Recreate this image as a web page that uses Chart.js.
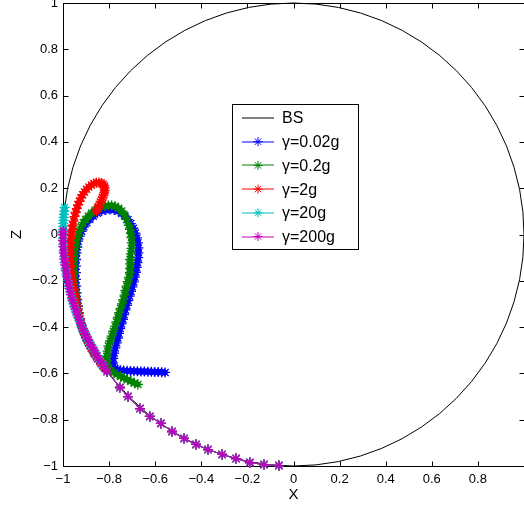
<!DOCTYPE html>
<html>
<head>
<meta charset="utf-8">
<script src="https://cdn.jsdelivr.net/npm/chart.js"></script>
<style>
  body { margin: 0; background: #fff; }
</style>
</head>
<body>
<canvas id="myChart" width="524" height="509"></canvas>
<script>
// axis ticks (both axes)
var tickValues = [-1, -0.8, -0.6, -0.4, -0.2, 0, 0.2, 0.4, 0.6, 0.8, 1];

var circleLabel = 'BS';
var seriesLabels = ['\u03b3=0.02g', '\u03b3=0.2g', '\u03b3=2g', '\u03b3=20g', '\u03b3=200g'];
var seriesColors = ['#0000ff', '#008000', '#ff0000', '#00bfbf', '#bf00bf'];

// common sparse end along the sphere, [x, z]
var arcTail = [[-0.809,-0.592],[-0.753,-0.661],[-0.718,-0.700],[-0.666,-0.752],[-0.623,-0.786],[-0.575,-0.816],
  [-0.527,-0.851],[-0.475,-0.881],[-0.423,-0.907],[-0.371,-0.929],[-0.310,-0.950],[-0.249,-0.968],
  [-0.189,-0.985],[-0.128,-0.994],[-0.063,-0.998]];

// gamma = 0.02g
var g002 = [[-0.557,-0.596],[-0.572,-0.595],[-0.587,-0.594],[-0.602,-0.594],[-0.617,-0.593],[-0.632,-0.593],
  [-0.647,-0.592],[-0.662,-0.592],[-0.677,-0.591],[-0.692,-0.591],[-0.707,-0.590],[-0.722,-0.589],
  [-0.737,-0.588],[-0.751,-0.586],[-0.764,-0.583],[-0.775,-0.579],[-0.782,-0.572],
  [-0.784,-0.555],[-0.782,-0.535],[-0.778,-0.512],[-0.773,-0.490],[-0.767,-0.468],[-0.762,-0.447],
  [-0.757,-0.427],[-0.752,-0.406],[-0.746,-0.386],[-0.740,-0.366],[-0.735,-0.346],[-0.729,-0.326],
  [-0.723,-0.306],[-0.717,-0.286],[-0.711,-0.266],[-0.705,-0.246],[-0.699,-0.226],[-0.693,-0.205],
  [-0.688,-0.184],[-0.684,-0.163],[-0.680,-0.142],[-0.677,-0.121],[-0.674,-0.100],[-0.673,-0.079],
  [-0.673,-0.058],[-0.675,-0.036],[-0.679,-0.015],[-0.686,0.006],[-0.695,0.027],[-0.706,0.047],
  [-0.718,0.064],[-0.731,0.079],[-0.745,0.091],[-0.760,0.100],[-0.778,0.106],[-0.796,0.108],
  [-0.814,0.106],[-0.832,0.101],[-0.851,0.092],[-0.869,0.079],[-0.884,0.066],[-0.897,0.051],
  [-0.909,0.033],[-0.919,0.014],[-0.927,-0.007],[-0.934,-0.029],[-0.938,-0.054],[-0.941,-0.079],
  [-0.943,-0.108],[-0.944,-0.137],[-0.944,-0.165],[-0.944,-0.194],[-0.943,-0.223],[-0.941,-0.252],
  [-0.938,-0.281],[-0.935,-0.310],[-0.931,-0.338],[-0.926,-0.365],[-0.919,-0.392],[-0.911,-0.418],
  [-0.901,-0.444],[-0.890,-0.468],[-0.877,-0.492],[-0.864,-0.515],[-0.850,-0.537],[-0.835,-0.558],
  [-0.820,-0.576]];

// gamma = 0.2g
var g02 = [[-0.675,-0.648],[-0.690,-0.641],[-0.705,-0.634],[-0.720,-0.627],[-0.735,-0.620],[-0.750,-0.613],
  [-0.765,-0.605],[-0.779,-0.597],[-0.792,-0.587],[-0.802,-0.576],[-0.808,-0.563],
  [-0.810,-0.545],[-0.810,-0.526],[-0.807,-0.504],[-0.803,-0.482],[-0.796,-0.460],[-0.789,-0.439],
  [-0.782,-0.418],[-0.774,-0.396],[-0.768,-0.377],[-0.762,-0.357],[-0.756,-0.338],[-0.750,-0.319],
  [-0.744,-0.300],[-0.738,-0.281],[-0.733,-0.262],[-0.729,-0.242],[-0.724,-0.223],[-0.719,-0.204],
  [-0.714,-0.184],[-0.710,-0.165],[-0.709,-0.146],[-0.709,-0.127],[-0.709,-0.108],[-0.706,-0.084],
  [-0.703,-0.060],[-0.702,-0.036],[-0.703,-0.013],[-0.705,0.005],[-0.709,0.022],[-0.715,0.040],
  [-0.724,0.065],[-0.734,0.084],[-0.745,0.101],[-0.759,0.113],[-0.774,0.122],[-0.789,0.125],
  [-0.803,0.125],[-0.818,0.123],[-0.832,0.120],[-0.847,0.113],[-0.861,0.105],[-0.876,0.093],
  [-0.890,0.079],[-0.902,0.065],[-0.912,0.051],[-0.921,0.033],[-0.929,0.014],[-0.935,-0.007],
  [-0.941,-0.029],[-0.945,-0.054],[-0.948,-0.079],[-0.950,-0.108],[-0.951,-0.137],[-0.951,-0.165],
  [-0.951,-0.194],[-0.948,-0.223],[-0.945,-0.252],[-0.942,-0.281],[-0.938,-0.310],[-0.934,-0.338],
  [-0.929,-0.363],[-0.922,-0.388],[-0.914,-0.412],[-0.904,-0.436],[-0.893,-0.460],[-0.881,-0.483],
  [-0.868,-0.506],[-0.854,-0.528],[-0.839,-0.549],[-0.824,-0.570]];

// gamma = 2g
var g2 = [[-0.854,0.100],[-0.851,0.110],[-0.847,0.120],[-0.842,0.130],[-0.837,0.140],[-0.832,0.150],
  [-0.828,0.160],[-0.824,0.170],[-0.821,0.180],[-0.819,0.190],[-0.819,0.200],[-0.821,0.209],
  [-0.826,0.217],[-0.834,0.222],[-0.844,0.225],[-0.855,0.224],[-0.866,0.220],[-0.877,0.214],
  [-0.888,0.205],[-0.898,0.195],[-0.907,0.184],[-0.915,0.172],[-0.922,0.158],[-0.929,0.143],
  [-0.935,0.128],[-0.940,0.112],[-0.945,0.095],[-0.950,0.077],[-0.954,0.058],[-0.958,0.040],
  [-0.961,0.021],[-0.964,0.002],[-0.966,-0.017],[-0.968,-0.036],[-0.969,-0.056],[-0.970,-0.076],
  [-0.970,-0.096],[-0.969,-0.116],[-0.968,-0.136],[-0.966,-0.156],[-0.964,-0.176],[-0.961,-0.196],
  [-0.957,-0.216],[-0.953,-0.236],[-0.949,-0.257],[-0.945,-0.278],[-0.941,-0.299],[-0.937,-0.320],
  [-0.932,-0.341],[-0.927,-0.362],[-0.921,-0.384],[-0.914,-0.406],[-0.906,-0.427],[-0.897,-0.448],
  [-0.887,-0.469],[-0.877,-0.490],[-0.866,-0.510],[-0.854,-0.530],[-0.841,-0.549],[-0.828,-0.567]];

// gamma = 20g
var g20 = [[-0.993,0.117],[-0.994,0.100],[-0.996,0.087],[-0.997,0.074],[-0.998,0.061],[-0.999,0.048],
  [-0.999,0.035],[-1.000,0.022],[-1.000,0.009],[-1.000,-0.017],[-0.999,-0.044],[-0.998,-0.070],
  [-0.995,-0.096],[-0.993,-0.122],[-0.989,-0.148],[-0.985,-0.174],[-0.980,-0.199],[-0.974,-0.225],
  [-0.968,-0.250],[-0.961,-0.276],[-0.954,-0.301],[-0.946,-0.326],[-0.937,-0.350],[-0.927,-0.375],
  [-0.917,-0.399],[-0.906,-0.423],[-0.895,-0.446],[-0.883,-0.470],[-0.870,-0.492],[-0.857,-0.515],
  [-0.843,-0.537],[-0.829,-0.559]];

// gamma = 200g
var g200 = [[-0.999,0.015],[-1.000,0.000],[-1.000,-0.026],[-0.999,-0.052],[-0.997,-0.079],[-0.995,-0.105],
  [-0.991,-0.131],[-0.988,-0.156],[-0.983,-0.182],[-0.978,-0.208],[-0.972,-0.233],[-0.966,-0.259],
  [-0.959,-0.284],[-0.951,-0.309],[-0.943,-0.334],[-0.934,-0.358],[-0.924,-0.383],[-0.914,-0.407],
  [-0.903,-0.431],[-0.891,-0.454],[-0.879,-0.477],[-0.866,-0.500],[-0.853,-0.523],[-0.839,-0.545],
  [-0.824,-0.566]];

var seriesData = [g002, g02, g2, g20, g200];

function toPoints(arr) {
  return arr.concat(arcTail).map(function (p) { return { x: p[0], y: p[1] }; });
}

function fmt(v) {
  var r = Math.round(v * 10) / 10;
  return (r < 0 ? '\u2212' : '') + Math.abs(r);
}

// where markers crowd together they merge into a solid band
function bandWidth(sc) {
  var d = Math.hypot(sc.p1.x - sc.p0.x, sc.p1.y - sc.p0.y);
  return d < 7.5 ? 5.5 : 1;
}

var datasets = seriesData.map(function (arr, i) {
  return {
    label: seriesLabels[i],
    data: toPoints(arr),
    showLine: true,
    clip: false,
    borderColor: seriesColors[i],
    backgroundColor: seriesColors[i],
    borderWidth: 1,
    borderCapStyle: 'round',
    borderJoinStyle: 'round',
    segment: { borderWidth: bandWidth },
    pointStyle: 'star',
    pointRadius: 5,
    pointBorderWidth: 1.3,
    pointBorderColor: seriesColors[i],
    order: seriesData.length - i
  };
});

// unit circle (BS) drawn through the scales
var circlePlugin = {
  id: 'bs',
  beforeDatasetsDraw: function (chart) {
    var x = chart.scales.x, y = chart.scales.y, c = chart.ctx;
    var cx = x.getPixelForValue(0), cy = y.getPixelForValue(0);
    c.save();
    c.strokeStyle = '#000';
    c.lineWidth = 1;
    c.beginPath();
    c.ellipse(cx, cy, x.getPixelForValue(1) - cx, cy - y.getPixelForValue(1), 0, 0, Math.PI * 2);
    c.stroke();
    c.restore();
  }
};

// box frame with inward ticks, MATLAB style
var framePlugin = {
  id: 'frame',
  beforeDatasetsDraw: function (chart) {
    var a = chart.chartArea, c = chart.ctx;
    var x = chart.scales.x, y = chart.scales.y;
    var L = Math.round(a.left) + 0.5, R = Math.round(a.right) + 0.5;
    var T = Math.round(a.top) + 0.5, B = Math.round(a.bottom) + 0.5;
    c.save();
    c.strokeStyle = '#000';
    c.lineWidth = 1;
    c.beginPath();
    c.moveTo(L, T); c.lineTo(R, T); c.lineTo(R, B); c.lineTo(L, B); c.closePath();
    tickValues.forEach(function (v) {
      var px = Math.round(x.getPixelForValue(v)) + 0.5;
      c.moveTo(px, B); c.lineTo(px, B - 5);
      c.moveTo(px, T); c.lineTo(px, T + 5);
      var py = Math.round(y.getPixelForValue(v)) + 0.5;
      c.moveTo(L, py); c.lineTo(L + 5, py);
      c.moveTo(R, py); c.lineTo(R - 5, py);
    });
    c.stroke();
    c.restore();
  }
};

var legendPlugin = {
  id: 'matlabLegend',
  afterDraw: function (chart) {
    var a = chart.chartArea, c = chart.ctx;
    var left = a.left + 169, top = a.top + 101, w = 126, h = 145;
    var labels = [circleLabel].concat(seriesLabels);
    var colors = ['#000'].concat(seriesColors);
    c.save();
    c.fillStyle = '#fff';
    c.fillRect(left, top, w, h);
    c.strokeStyle = '#000';
    c.lineWidth = 1;
    c.strokeRect(left + 0.5, top + 0.5, w, h);
    c.font = '16px "Liberation Sans", Arial, sans-serif';
    c.textBaseline = 'middle';
    c.textAlign = 'left';
    labels.forEach(function (lab, i) {
      var yy = top + 14 + i * 23.7;
      var ly = Math.round(yy);
      c.strokeStyle = colors[i];
      c.beginPath();
      c.moveTo(left + 10, ly); c.lineTo(left + 42, ly);
      c.stroke();
      if (i > 0) {
        var sx = left + 26, r = 4.5, d = r * Math.SQRT1_2;
        c.beginPath();
        c.moveTo(sx - r, yy); c.lineTo(sx + r, yy);
        c.moveTo(sx, yy - r); c.lineTo(sx, yy + r);
        c.moveTo(sx - d, yy - d); c.lineTo(sx + d, yy + d);
        c.moveTo(sx - d, yy + d); c.lineTo(sx + d, yy - d);
        c.stroke();
      }
      c.fillStyle = '#000';
      c.fillText(lab, left + 50, yy + 1);
    });
    c.restore();
  }
};

var tickFont = { family: '"Liberation Sans", Arial, sans-serif', size: 13 };
var titleFont = { family: '"Liberation Sans", Arial, sans-serif', size: 15 };

function fixWidth(w) {
  return function (scale) {
    scale.width = w;
    scale.paddingLeft = 0; scale.paddingRight = 0; scale.paddingTop = 0; scale.paddingBottom = 0;
  };
}
function fixHeight(h) {
  return function (scale) {
    scale.height = h;
    scale.paddingLeft = 0; scale.paddingRight = 0; scale.paddingTop = 0; scale.paddingBottom = 0;
  };
}

var ctx = document.getElementById('myChart').getContext('2d');
var myChart = new Chart(ctx, {
  type: 'scatter',
  data: { datasets: datasets },
  options: {
    responsive: false,
    animation: false,
    layout: { autoPadding: false, padding: { top: 3, right: 0, left: 0, bottom: 0 } },
    plugins: { legend: { display: false }, tooltip: { enabled: false } },
    scales: {
      x: {
        type: 'linear', min: -1, max: 1,
        grid: { display: false, drawTicks: false }, border: { display: false },
        afterBuildTicks: function (s) { s.ticks = tickValues.map(function (v) { return { value: v }; }); },
        ticks: {
          color: '#000', font: tickFont, padding: 6, maxRotation: 0, autoSkip: false,
          callback: function (v) { return v >= 0.999 ? '' : fmt(v); }
        },
        title: { display: true, text: 'X', color: '#000', font: titleFont, padding: { top: 0, bottom: 5 } },
        afterFit: fixHeight(43)
      },
      y: {
        type: 'linear', min: -1, max: 1,
        grid: { display: false, drawTicks: false }, border: { display: false },
        afterBuildTicks: function (s) { s.ticks = tickValues.map(function (v) { return { value: v }; }); },
        ticks: { color: '#000', font: tickFont, padding: 5, autoSkip: false, callback: fmt },
        title: { display: true, text: 'Z', color: '#000', font: titleFont, padding: { top: 8, bottom: 0 } },
        afterFit: fixWidth(63)
      }
    }
  },
  plugins: [circlePlugin, framePlugin, legendPlugin]
});
</script>
</body>
</html>
